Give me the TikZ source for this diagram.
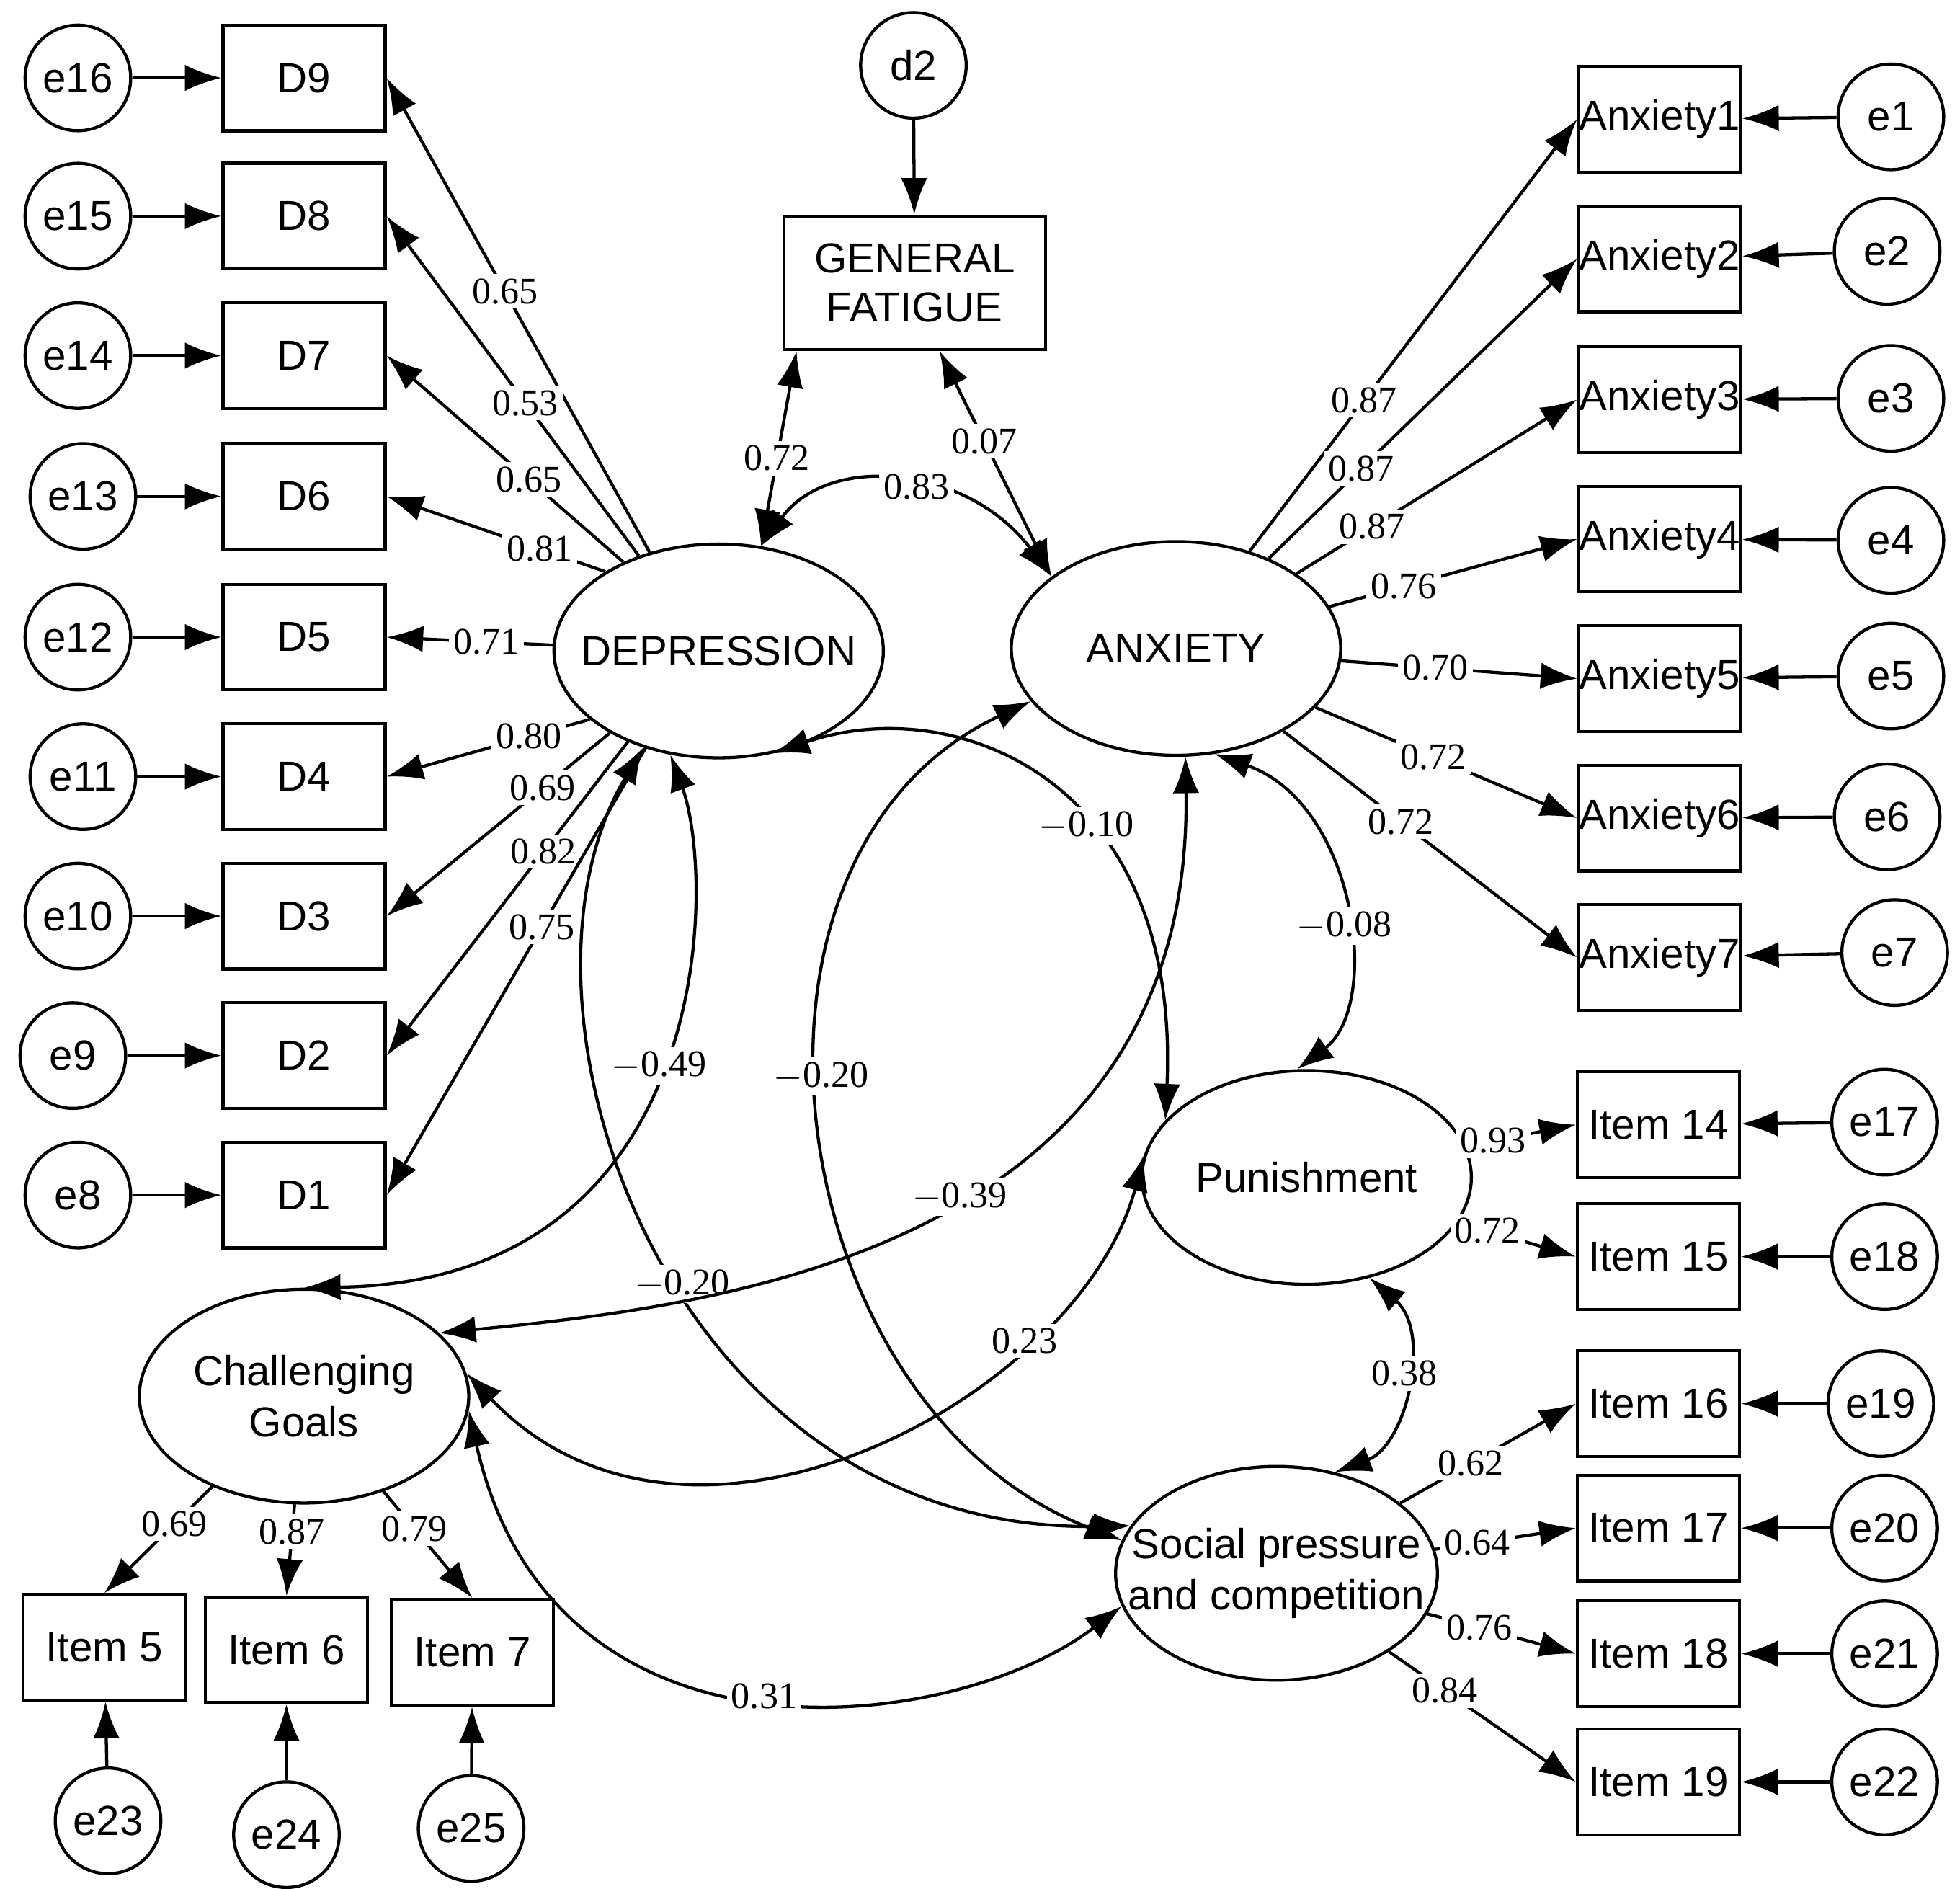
\documentclass[tikz,border=0pt]{standalone}
\usepackage{fontspec}
\setmainfont{Liberation Serif}
\newfontfamily\nodefont{Liberation Sans}
\usetikzlibrary{shapes.geometric,arrows.meta}
\begin{document}
\begin{tikzpicture}[x=0.01cm,y=-0.01cm,line width=0.7pt,
 arr/.style={-{Latex[length=2.9mm,width=2.1mm]}},
 dbl/.style={{Latex[length=2.9mm,width=2.1mm]}-{Latex[length=2.9mm,width=2.1mm]}},
 err/.style={circle,draw,minimum size=0.84cm,inner sep=0pt,font=\nodefont\fontsize{9.5}{11}\selectfont},
 box/.style={draw,minimum width=1.29cm,minimum height=0.84cm,inner sep=0pt,font=\nodefont\fontsize{9.5}{11}\selectfont},
 lat/.style={ellipse,draw,minimum width=2.62cm,minimum height=1.7cm,inner ysep=0pt,inner xsep=-0.3cm,align=center,font=\nodefont\fontsize{9.5}{11.5}\selectfont},
 lab/.style={fill=white,inner sep=1pt,font=\fontsize{8.5}{10}\selectfont}]
\useasboundingbox (0,0) rectangle (1560,1503);
\foreach \i/\e/\ex/\y in {9/16/62/62,8/15/62/172,7/14/62/283,6/13/66/395,5/12/62/507,4/11/66/618,3/10/62/729,2/9/58/840,1/8/62/951}{
  \node[box] (D\i) at (242,\y) {D\i};
  \node[err] (e\e) at (\ex,\y) {e\e};
  \draw[arr] (e\e) -- (D\i);
}
\node[err] (d2) at (727,52) {d2};
\node[box,minimum width=2.08cm,minimum height=1.06cm,align=center] (gf) at (728,225) {GENERAL\\FATIGUE};
\draw[arr] (d2) -- (gf);
\node[lat] (dep) at (572,518) {DEPRESSION};
\node[lat] (anx) at (936,516) {ANXIETY};
\node[lat] (pun) at (1040,937) {Punishment};
\node[lat,minimum width=2.56cm] (soc) at (1016,1252) {Social pressure\\and competition};
\node[lat] (cg) at (242,1111) {Challenging\\Goals};
\foreach \i/\a/\v/\p in {9/125/0.65/0.55,8/130/0.53/0.45,7/137/0.65/0.4,6/145/0.81/0.3,5/178/0.71/0.4,4/-152/0.80/0.3,3/-143/0.69/0.3,2/-135/0.82/0.35,1/-127/0.75/0.4}{
  \draw[arr] (dep.\a) -- (D\i.east) node[lab,pos=\p] {\v};
}
\foreach \i/\y/\ex/\ey/\v/\p in {1/95/1505/93/0.87/0.35,2/206/1502/200/0.87/0.3,3/318/1505/317/0.87/0.27,4/429/1505/430/0.76/0.3,5/540/1505/538/0.70/0.4,6/651/1502/650/0.72/0.45,7/762/1508/758/0.72/0.4}{
  \node[box] (A\i) at (1321,\y) {Anxiety\i};
  \node[err] (e\i) at (\ex,\ey) {e\i};
  \draw[arr] (e\i) -- (A\i);
  \draw[arr] (anx) -- (A\i.west) node[lab,pos=\p] {\v};
}
\node[box] (I14) at (1320,895) {Item 14};
\node[box] (I15) at (1320,1000) {Item 15};
\node[err] (e17) at (1500,893) {e17};
\node[err] (e18) at (1500,1000) {e18};
\draw[arr] (e17) -- (I14); \draw[arr] (e18) -- (I15);
\draw[arr] (pun) -- (I14.west) node[lab,pos=0.25] {0.93};
\draw[arr] (pun) -- (I15.west) node[lab,pos=0.25] {0.72};
\foreach \i/\y/\e/\ex/\v/\p in {16/1117/19/1497/0.62/0.4,17/1216/20/1500/0.64/0.3,18/1316/21/1500/0.76/0.35,19/1418/22/1500/0.84/0.3}{
  \node[box] (I\i) at (1320,\y) {Item \i};
  \node[err] (e\e) at (\ex,\y) {e\e};
  \draw[arr] (e\e) -- (I\i);
  \draw[arr] (soc) -- (I\i.west) node[lab,pos=\p] {\v};
}
\node[box] (I5) at (83,1311) {Item 5};
\node[box] (I6) at (228,1313) {Item 6};
\node[box] (I7) at (376,1315) {Item 7};
\node[err] (e23) at (86,1449) {e23};
\node[err] (e24) at (228,1460) {e24};
\node[err] (e25) at (375,1455) {e25};
\draw[arr] (e23) -- (I5); \draw[arr] (e24) -- (I6); \draw[arr] (e25) -- (I7);
\draw[arr] (cg) -- (I5.north) node[lab,pos=0.35] {0.69};
\draw[arr] (cg.-95) -- (I6.north) node[lab,pos=0.3] {0.87};
\draw[arr] (cg) -- (I7.north) node[lab,pos=0.35] {0.79};
\draw[dbl] (dep.68) -- (gf.-150) node[lab,pos=0.45] {0.72};
\draw[dbl] (gf.-70) -- (anx.150) node[lab,pos=0.4] {0.07};
\draw[dbl] (dep.68) .. controls (660,360) and (770,370) .. (anx.150) node[lab,pos=0.55] {0.83};
\draw[dbl] (dep.-62) .. controls (760,550) and (940,620) .. (pun.158) node[lab,pos=0.6] {$-$0.10};
\draw[dbl] (anx.-70) .. controls (1080,640) and (1100,800) .. (pun.95) node[lab,pos=0.55] {$-$0.08};
\draw[dbl] (dep.-115) .. controls (570,700) and (570,1020) .. (cg.90) node[lab,pos=0.5] {$-$0.49};
\draw[dbl] (dep.-128) .. controls (390,800) and (530,1220) .. (soc.162) node[lab,pos=0.55] {$-$0.20};
\draw[dbl] (anx.-160) .. controls (560,680) and (620,1120) .. (soc.168) node[lab,pos=0.45] {$-$0.20};
\draw[dbl] (anx.-85) .. controls (950,1000) and (560,1040) .. (cg.25) node[lab,pos=0.45] {$-$0.39};
\draw[dbl] (pun.172) .. controls (860,1110) and (550,1280) .. (cg.8) node[lab,pos=0.28] {0.23};
\draw[dbl] (cg.-5) .. controls (440,1420) and (760,1380) .. (soc.192) node[lab,pos=0.5] {0.31};
\draw[dbl] (pun.-58) .. controls (1140,1060) and (1120,1150) .. (soc.60) node[lab,pos=0.45] {0.38};
\end{tikzpicture}
\end{document}
